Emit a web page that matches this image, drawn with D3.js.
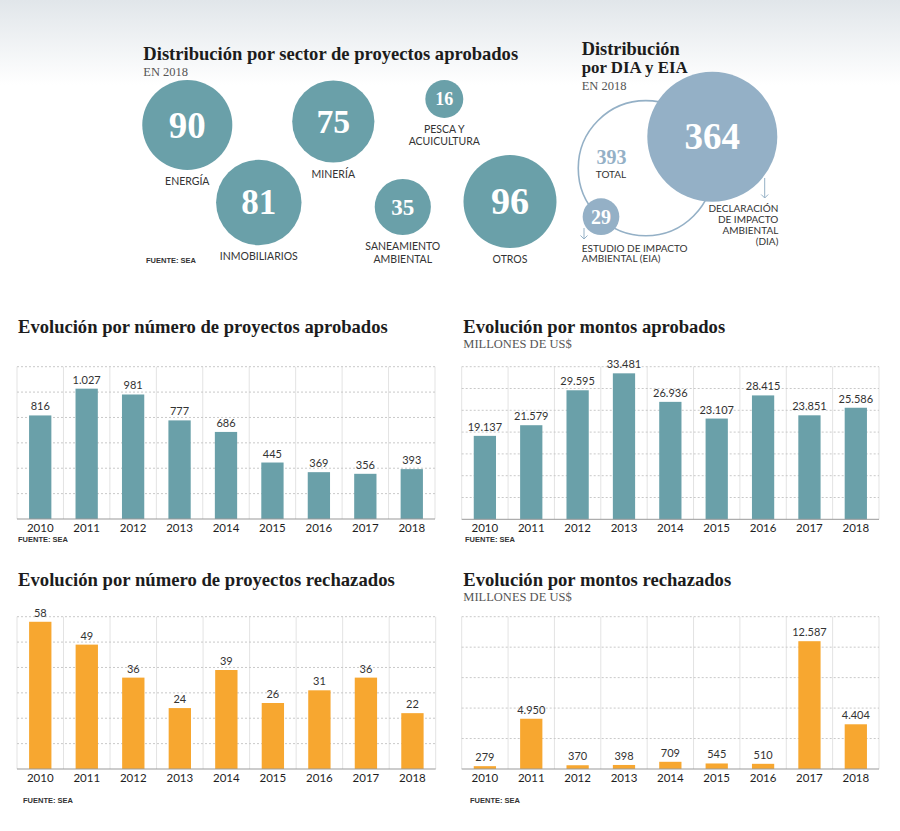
<!DOCTYPE html>
<html>
<head>
<meta charset="utf-8">
<script src="https://cdn.jsdelivr.net/npm/d3@7.9.0/dist/d3.min.js"></script>
<style>
  body { margin: 0; background: #fff; }
  svg { display: block; }
</style>
</head>
<body>
<div id="chart"></div>
<script>
// ---- data ----
const sectorNames  = ['ENERGÍA', 'MINERÍA', 'PESCA Y|ACUICULTURA', 'INMOBILIARIOS', 'SANEAMIENTO|AMBIENTAL', 'OTROS'];
const sectorValues = [90, 75, 16, 81, 35, 96];

const tipoNames  = ['DECLARACIÓN|DE IMPACTO|AMBIENTAL|(DIA)', 'ESTUDIO DE IMPACTO|AMBIENTAL (EIA)'];
const tipoValues = [364, 29];
const tipoTotal  = 393;

const years = ['2010', '2011', '2012', '2013', '2014', '2015', '2016', '2017', '2018'];
const aprobadosNumero  = [816, 1027, 981, 777, 686, 445, 369, 356, 393];
const aprobadosMontos  = [19137, 21579, 29595, 33481, 26936, 23107, 28415, 23851, 25586];
const rechazadosNumero = [58, 49, 36, 24, 39, 26, 31, 36, 22];
const rechazadosMontos = [279, 4950, 370, 398, 709, 545, 510, 12587, 4404];

// ---- layout ----
const bubbleCenters = [[187.3, 125], [333.3, 121.5], [444.3, 99], [258.8, 202.5], [402.8, 207], [510, 201.5]];

const serif = '"Liberation Serif", "DejaVu Serif", serif';
const sans  = 'Lato, "Noto Sans", sans-serif';
const teal = '#6aa0a9', orange = '#f7a730', blue = '#94b0c6';
const fmt = d3.formatLocale({ decimal: ',', thousands: '.', grouping: [3], currency: ['US$', ''] }).format(',d');

const svg = d3.select('#chart').append('svg')
  .attr('width', 900).attr('height', 831);

const grad = svg.append('defs').append('linearGradient')
  .attr('id', 'bg').attr('x1', 0).attr('y1', 0).attr('x2', 0).attr('y2', 1);
grad.append('stop').attr('offset', '0%').attr('stop-color', '#e1e6ea');
grad.append('stop').attr('offset', '100%').attr('stop-color', '#fff');
svg.append('rect').attr('width', 900).attr('height', 85).attr('fill', 'url(#bg)');

function title(x, y, text, width) {
  const t = svg.append('text')
    .attr('x', x).attr('y', y)
    .attr('font-family', serif).attr('font-weight', 700)
    .attr('font-size', 17).attr('fill', '#1c1c1c')
    .text(text);
  const len = t.node().getComputedTextLength();
  t.attr('font-size', 17 * width / len);
}

function subtitle(x, y, text) {
  svg.append('text')
    .attr('x', x).attr('y', y)
    .attr('font-family', serif).attr('font-size', 12.5)
    .attr('fill', '#555').text(text);
}

function source(x, y) {
  svg.append('text')
    .attr('x', x).attr('y', y)
    .attr('font-family', '"Liberation Sans Narrow", "Liberation Sans", sans-serif')
    .attr('font-weight', 700).attr('font-size', 7.5)
    .attr('fill', '#333').text('FUENTE: SEA');
}

function multiline(sel, text, x, lh) {
  text.split('|').forEach((line, i) => {
    sel.append('tspan').attr('x', x).attr('dy', i ? lh : 0).text(line);
  });
}

// ---- sector bubbles ----
title(143.3, 60, 'Distribución por sector de proyectos aprobados', 375);
subtitle(143.3, 75.7, 'EN 2018');
source(146, 263);

const rSector = d3.scaleSqrt().domain([0, 96]).range([0, 46.5]);
const bubbles = svg.append('g').selectAll('g')
  .data(sectorValues.map((v, i) => ({ v, name: sectorNames[i], c: bubbleCenters[i] })))
  .join('g')
    .attr('transform', d => `translate(${d.c[0]},${d.c[1]})`);

bubbles.append('circle')
  .attr('r', d => rSector(d.v))
  .attr('fill', teal);

bubbles.append('text')
  .attr('text-anchor', 'middle').attr('dy', '0.34em')
  .attr('font-family', serif).attr('font-weight', 700)
  .attr('font-size', d => Math.max(18, rSector(d.v) * 0.82))
  .attr('fill', '#fff')
  .text(d => d.v);

bubbles.append('text')
  .attr('text-anchor', 'middle')
  .attr('y', d => rSector(d.v) + 15)
  .attr('font-family', sans).attr('font-size', 10.5).attr('fill', '#333')
  .each(function(d) { multiline(d3.select(this), d.name, 0, 12.5); });

// ---- DIA / EIA ----
title(581.7, 55, 'Distribución', 98);
title(581.7, 72.7, 'por DIA y EIA', 106);
subtitle(581.7, 90, 'EN 2018');

const rTipo = d3.scaleSqrt().domain([0, tipoValues[0]]).range([0, 65]);
const totalC = [645.8, 168.2], diaC = [712.3, 136.7], eiaC = [601, 216.7];

svg.append('circle')
  .attr('cx', totalC[0]).attr('cy', totalC[1]).attr('r', rTipo(tipoTotal))
  .attr('fill', 'none').attr('stroke', blue).attr('stroke-width', 1.6);

svg.append('text')
  .attr('x', 611.5).attr('y', 163.5).attr('text-anchor', 'middle')
  .attr('font-family', serif).attr('font-weight', 700).attr('font-size', 20)
  .attr('fill', blue).text(tipoTotal);
svg.append('text')
  .attr('x', 611).attr('y', 177.5).attr('text-anchor', 'middle')
  .attr('font-family', sans).attr('font-size', 10).attr('fill', '#333').text('TOTAL');

[diaC, eiaC].forEach((c, i) => {
  svg.append('circle')
    .attr('cx', c[0]).attr('cy', c[1]).attr('r', rTipo(tipoValues[i]))
    .attr('fill', blue);
  svg.append('text')
    .attr('x', c[0]).attr('y', c[1]).attr('dy', '0.34em').attr('text-anchor', 'middle')
    .attr('font-family', serif).attr('font-weight', 700)
    .attr('font-size', i ? 20 : 37).attr('fill', '#fff')
    .text(tipoValues[i]);
});

function arrow(x, y1, y2) {
  svg.append('path')
    .attr('d', `M${x},${y1}V${y2}M${x - 3.5},${y2 - 3.5}L${x},${y2}L${x + 3.5},${y2 - 3.5}`)
    .attr('fill', 'none').attr('stroke', blue).attr('stroke-width', 1);
}
arrow(764.7, 178, 198);
arrow(584, 228, 239);

svg.append('text')
  .attr('y', 211.7).attr('text-anchor', 'end')
  .attr('font-family', sans).attr('font-size', 10).attr('fill', '#333')
  .call(t => multiline(t, tipoNames[0], 778.3, 11.1));
svg.append('text')
  .attr('y', 251.7)
  .attr('font-family', sans).attr('font-size', 10).attr('fill', '#333')
  .call(t => multiline(t, tipoNames[1], 581.7, 10.6));

// ---- bar charts ----
function barChart(o) {
  const x = d3.scaleBand().domain(years).range([o.x0, o.x1]);
  const y = d3.scaleLinear().domain([0, o.max]).range([o.yBase, o.yTop]);
  const g = svg.append('g');

  g.selectAll('line.v')
    .data(years.map(d => x(d)).concat([o.x1]))
    .join('line')
      .attr('x1', d => d).attr('x2', d => d)
      .attr('y1', o.yTop).attr('y2', o.yBase)
      .attr('stroke', '#e3e3e3').attr('stroke-width', 1);

  g.selectAll('line.h')
    .data(d3.range(o.step, o.max + 1, o.step))
    .join('line')
      .attr('x1', o.x0).attr('x2', o.x1)
      .attr('y1', d => y(d)).attr('y2', d => y(d))
      .attr('stroke', '#c9c9c9').attr('stroke-dasharray', '2,2');

  const bw = x.bandwidth() * 0.48;
  g.selectAll('rect')
    .data(o.values)
    .join('rect')
      .attr('x', (d, i) => x(years[i]) + (x.bandwidth() - bw) / 2)
      .attr('width', bw)
      .attr('y', d => y(d))
      .attr('height', d => o.yBase - y(d))
      .attr('fill', o.color);

  g.selectAll('text.val')
    .data(o.values)
    .join('text')
      .attr('x', (d, i) => x(years[i]) + x.bandwidth() / 2)
      .attr('y', d => y(d) - 5)
      .attr('text-anchor', 'middle')
      .attr('font-family', sans).attr('font-size', 11).attr('fill', '#333')
      .text(d => fmt(d));

  g.append('line')
    .attr('x1', o.x0).attr('x2', o.x1)
    .attr('y1', o.yBase).attr('y2', o.yBase)
    .attr('stroke', '#999');

  g.selectAll('text.year')
    .data(years)
    .join('text')
      .attr('x', d => x(d) + x.bandwidth() / 2)
      .attr('y', o.yBase + 13)
      .attr('text-anchor', 'middle')
      .attr('font-family', sans).attr('font-weight', 400).attr('font-size', 11.5)
      .attr('fill', '#1e1e1e')
      .text(d => d);

  title(o.tx, o.ty, o.title, o.tw);
  if (o.sub) subtitle(o.tx, o.ty + 15.3, o.sub);
  source(o.sx, o.sy);
}

barChart({ values: aprobadosNumero, color: teal, x0: 17, x1: 435, yTop: 366.7, yBase: 519, max: 1200, step: 200,
  title: 'Evolución por número de proyectos aprobados', tx: 18, ty: 333.3, tw: 370, sx: 18, sy: 541.7 });
barChart({ values: aprobadosMontos, color: teal, x0: 461.7, x1: 879, yTop: 366.7, yBase: 519.3, max: 35000, step: 5000,
  title: 'Evolución por montos aprobados', sub: 'MILLONES DE US$', tx: 463.3, ty: 333, tw: 262, sx: 465, sy: 541.7 });
barChart({ values: rechazadosNumero, color: orange, x0: 17, x1: 435.7, yTop: 616.7, yBase: 769, max: 60, step: 10,
  title: 'Evolución por número de proyectos rechazados', tx: 18, ty: 586, tw: 377, sx: 23, sy: 803 });
barChart({ values: rechazadosMontos, color: orange, x0: 461.7, x1: 879, yTop: 616.7, yBase: 769, max: 15000, step: 3000,
  title: 'Evolución por montos rechazados', sub: 'MILLONES DE US$', tx: 463.3, ty: 586, tw: 268, sx: 470, sy: 803 });
</script>
</body>
</html>
